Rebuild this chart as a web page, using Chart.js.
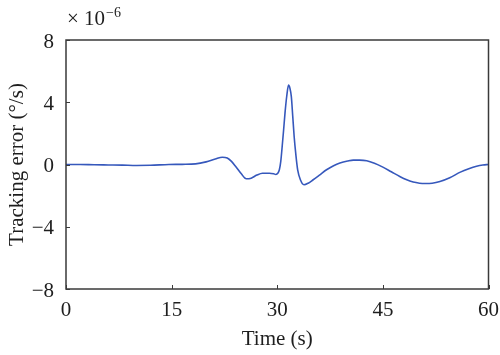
<!DOCTYPE html>
<html><head><meta charset="utf-8">
<script src="https://cdn.jsdelivr.net/npm/chart.js@4.4.0/dist/chart.umd.min.js"></script>
<style>html,body{margin:0;padding:0;background:#fff;}#wrap{width:500px;height:355px;}</style>
</head><body><div id="wrap"><canvas id="c" width="500" height="355"></canvas></div>
<script>
const times = [0, 2, 4, 6, 8, 10, 12, 14.6, 16.5, 18.4, 19.9, 21.2, 22.2, 22.9, 23.5, 24.1, 24.9, 25.6, 26.3, 27.1, 27.9, 28.9, 29.5, 29.8, 30.1, 30.3, 30.5, 30.7, 30.9, 31.1, 31.35, 31.6, 31.8, 32.0, 32.2, 32.4, 32.65, 32.9, 33.3, 33.8, 34.4, 35.1, 36.0, 37.0, 38.0, 38.9, 40.0, 40.8, 41.7, 42.7, 43.8, 45.0, 46.2, 47.4, 48.3, 49.3, 50.2, 51.0, 52.0, 53.1, 54.5, 56.0, 57.2, 58.3, 59.2, 60];
const errors = [0.0, 0.0, -0.02, -0.03, -0.04, -0.06, -0.05, 0.0, 0.01, 0.04, 0.17, 0.35, 0.47, 0.42, 0.2, -0.13, -0.6, -0.92, -0.88, -0.68, -0.56, -0.56, -0.6, -0.64, -0.55, -0.34, 0.2, 1.16, 2.2, 3.3, 4.4, 5.1, 4.9, 4.36, 3.1, 1.8, 0.6, -0.34, -1.0, -1.3, -1.2, -0.98, -0.68, -0.34, -0.08, 0.09, 0.22, 0.28, 0.28, 0.24, 0.08, -0.17, -0.47, -0.77, -0.97, -1.13, -1.2, -1.22, -1.2, -1.09, -0.85, -0.49, -0.27, -0.11, -0.03, 0.0];
const xTicks = [0, 15, 30, 45, 60];
const yTicks = [-8, -4, 0, 4, 8];
const FONT = "'Liberation Serif', 'DejaVu Serif', serif";
const AXIS = '#3a3a3a';
const TXT = '#1e1e1e';

const framePlugin = {
  id: 'frame',
  afterDatasetsDraw(chart) {
    const {ctx, chartArea: a, scales} = chart;
    ctx.save();
    ctx.strokeStyle = AXIS;
    ctx.lineWidth = 1.5;
    ctx.strokeRect(a.left, a.top, a.right - a.left, a.bottom - a.top);
    ctx.lineWidth = 1;
    ctx.beginPath();
    yTicks.forEach(v => {
      const y = Math.round(scales.y.getPixelForValue(v)) + 0.5;
      ctx.moveTo(a.left, y); ctx.lineTo(a.left + 4, y);
    });
    xTicks.forEach(v => {
      const x = Math.round(scales.x.getPixelForValue(v)) + 0.5;
      ctx.moveTo(x, a.bottom); ctx.lineTo(x, a.bottom - 4);
    });
    ctx.stroke();
    ctx.fillStyle = TXT;
    ctx.textBaseline = 'alphabetic';
    ctx.font = "21px " + FONT;
    const x0 = a.left + 1;
    ctx.fillText('× 10', x0, 25);
    const w = ctx.measureText('× 10').width;
    ctx.font = "14px " + FONT;
    ctx.fillText('−6', x0 + w + 1, 17);
    ctx.restore();
  }
};

new Chart(document.getElementById('c'), {
  type: 'line',
  data: {
    datasets: [{
      data: times.map((t, i) => ({x: t, y: errors[i]})),
      borderColor: '#3658bc',
      borderWidth: 1.6,
      pointRadius: 0,
      cubicInterpolationMode: 'monotone',
      fill: false
    }]
  },
  options: {
    responsive: false,
    animation: false,
    devicePixelRatio: 1,
    layout: {padding: {left: 0, top: 40, right: 11, bottom: 0}},
    plugins: {legend: {display: false}, tooltip: {enabled: false}},
    scales: {
      x: {
        type: 'linear', min: 0, max: 60,
        afterBuildTicks: s => { s.ticks = xTicks.map(v => ({value: v})); },
        afterFit: s => { s.height = 66; },
        grid: {display: false},
        border: {display: false},
        ticks: {color: TXT, font: {family: FONT, size: 21}, padding: 1, maxRotation: 0},
        title: {display: true, text: 'Time (s)', color: TXT, font: {family: FONT, size: 21}, padding: {top: 2, bottom: 3}}
      },
      y: {
        type: 'linear', min: -8, max: 8,
        afterBuildTicks: s => { s.ticks = yTicks.map(v => ({value: v})); },
        afterFit: s => { s.width = 66; },
        grid: {display: false},
        border: {display: false},
        ticks: {color: TXT, font: {family: FONT, size: 21}, padding: 4, labelOffset: 2,
          callback: v => String(v).replace('-', '−')},
        title: {display: true, text: 'Tracking error (°/s)', color: TXT, font: {family: FONT, size: 21}, padding: {top: 5, bottom: 0}}
      }
    }
  },
  plugins: [framePlugin]
});
</script></body></html>
